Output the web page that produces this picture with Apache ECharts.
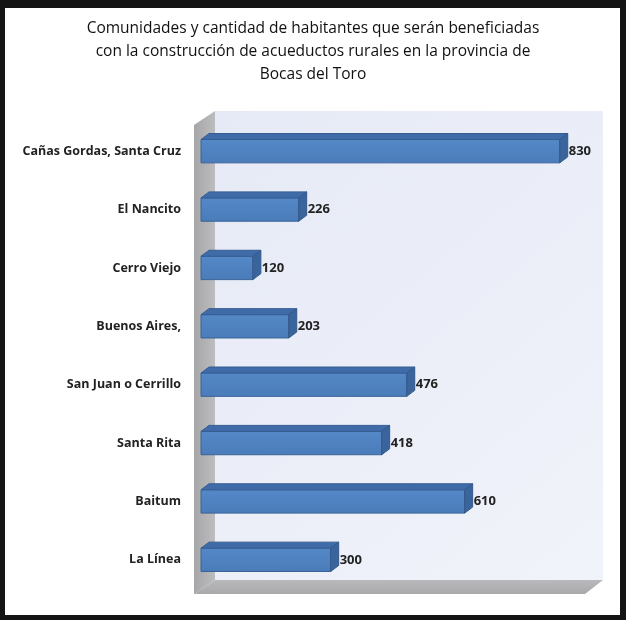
<!DOCTYPE html>
<html>
  <head>
    <meta charset="utf-8" />
    <title>Comunidades y habitantes beneficiados</title>
    <script src="https://cdn.jsdelivr.net/npm/echarts@6.0.0/dist/echarts.min.js"></script>
    <style>
      html, body { margin: 0; padding: 0; background: #141414; }
    </style>
  </head>
  <body>
    <div id="main" style="width: 626px; height: 620px"></div>

    <script>
      // datos del gráfico
      var comunidades = [
        "Cañas Gordas, Santa Cruz",
        "El Nancito",
        "Cerro Viejo",
        "Buenos Aires,",
        "San Juan o Cerrillo",
        "Santa Rita",
        "Baitum",
        "La Línea",
      ];
      var habitantes = [830, 226, 120, 203, 476, 418, 610, 300];

      var titulo =
        "Comunidades y cantidad de habitantes que serán beneficiadas\n" +
        "con la construcción de acueductos rurales en la provincia de\n" +
        "Bocas del Toro";

      var myChart = echarts.init(document.getElementById("main"));

      // profundidad de las barras y de las paredes
      var barDx = 8, barDy = 6;
      var wallDx = 21, wallDy = 14;

      function renderWalls(params, api) {
        var cs = params.coordSys;
        // plano frontal desplazado respecto al plano de las barras
        var fx0 = cs.x - 7, fx1 = cs.x + cs.width - 5;
        var fy0 = cs.y + 3, fy1 = cs.y + cs.height + 5;
        var bx0 = fx0 + wallDx, bx1 = fx1 + wallDx - 3;
        var by0 = fy0 - wallDy, by1 = fy1 - wallDy;
        return {
          type: "group",
          children: [
            {
              type: "rect",
              shape: { x: bx0, y: by0, width: bx1 - bx0, height: by1 - by0 },
              style: {
                fill: new echarts.graphic.LinearGradient(0, 0, 1, 1, [
                  { offset: 0, color: "#e6eaf6" },
                  { offset: 1, color: "#f1f3fa" },
                ]),
              },
            },
            {
              type: "polygon",
              shape: { points: [[fx0, fy0], [bx0, by0], [bx0, by1], [fx0, fy1]] },
              style: {
                fill: new echarts.graphic.LinearGradient(0, 0, 1, 0, [
                  { offset: 0, color: "#a6a6a8" },
                  { offset: 1, color: "#bdbdc0" },
                ]),
              },
            },
            {
              type: "polygon",
              shape: { points: [[fx0, fy1], [bx0, by1], [bx1, by1], [fx1, fy1]] },
              style: {
                fill: new echarts.graphic.LinearGradient(0, 0, 0, 1, [
                  { offset: 0, color: "#b9b9bc" },
                  { offset: 1, color: "#a9a9ac" },
                ]),
              },
            },
          ],
        };
      }

      function renderBar(params, api) {
        var start = api.coord([0, api.value(1)]);
        var end = api.coord([api.value(0), api.value(1)]);
        var band = api.size([0, 1])[1];
        var h = band * 0.4;
        var x0 = start[0], x1 = end[0];
        var yt = start[1] - h / 2, yb = start[1] + h / 2;
        return {
          type: "group",
          children: [
            {
              type: "rect",
              shape: { x: x0, y: yt, width: x1 - x0, height: h },
              style: {
                fill: new echarts.graphic.LinearGradient(0, 0, 0, 1, [
                  { offset: 0, color: "#5488c6" },
                  { offset: 1, color: "#4a7cb9" },
                ]),
                stroke: "#3a6399",
                lineWidth: 1,
              },
            },
            {
              type: "polygon",
              shape: {
                points: [[x0, yt], [x0 + barDx, yt - barDy], [x1 + barDx, yt - barDy], [x1, yt]],
              },
              style: { fill: "#3f6ca8", stroke: "#355d92", lineWidth: 1 },
            },
            {
              type: "polygon",
              shape: {
                points: [[x1, yt], [x1 + barDx, yt - barDy], [x1 + barDx, yb - barDy], [x1, yb]],
              },
              style: { fill: "#3a649c", stroke: "#33598b", lineWidth: 1 },
            },
            {
              type: "text",
              style: {
                x: x1 + barDx + 1,
                y: start[1],
                text: String(api.value(0)),
                fill: "#222",
                font: "bold 13px 'Open Sans', sans-serif",
                verticalAlign: "middle",
                align: "left",
              },
            },
          ],
        };
      }

      var option = {
        backgroundColor: "#141414",
        title: {
          text: titulo,
          left: "center",
          top: 12,
          textStyle: {
            fontFamily: "Open Sans",
            fontSize: 15.5,
            fontWeight: "normal",
            color: "#111",
            lineHeight: 23,
          },
        },
        graphic: [
          {
            type: "rect",
            left: 5,
            top: 8,
            shape: { width: 615, height: 607 },
            style: { fill: "#ffffff" },
            z: -10,
          },
        ],
        grid: { left: 201, top: 122, width: 389, height: 467 },
        xAxis: {
          type: "value",
          min: 0,
          max: 900,
          show: false,
        },
        yAxis: {
          type: "category",
          data: comunidades,
          inverse: true,
          axisLine: { show: false },
          axisTick: { show: false },
          splitLine: { show: false },
          axisLabel: {
            margin: 20,
            fontFamily: "Open Sans",
            fontWeight: "bold",
            fontSize: 12.5,
            color: "#222",
          },
        },
        series: [
          {
            type: "custom",
            renderItem: renderWalls,
            data: [[0, 0]],
            z: 1,
            silent: true,
          },
          {
            type: "custom",
            renderItem: renderBar,
            data: habitantes.map(function (v, i) {
              return [v, i];
            }),
            encode: { x: 0, y: 1 },
            z: 2,
          },
        ],
      };

      myChart.setOption(option);
    </script>
  </body>
</html>
